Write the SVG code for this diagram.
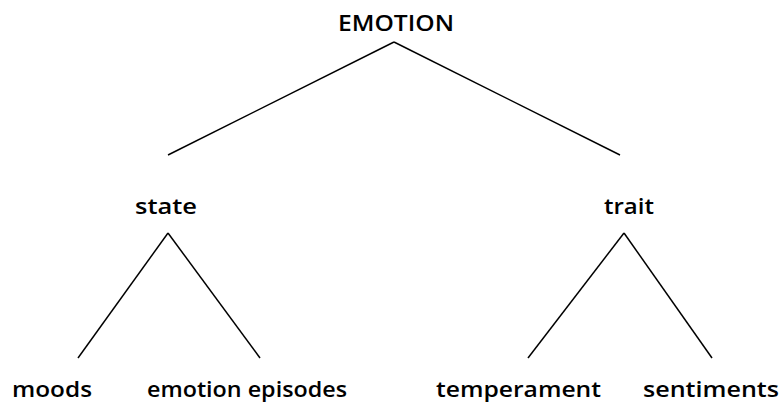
<svg xmlns="http://www.w3.org/2000/svg" width="782" height="402" viewBox="0 0 782 402">
<style>
text{font-family:"Open Sans","DejaVu Sans",sans-serif;font-size:22px;font-weight:600;fill:#000}
.e{stroke:#000;stroke-width:1.5;fill:none}
</style>
<rect width="782" height="402" fill="#fff"/>
<g id="connectors">
<line class="e" x1="394" y1="42" x2="168" y2="155"/>
<line class="e" x1="394" y1="42" x2="620" y2="155"/>
<line class="e" x1="168" y1="233" x2="78" y2="358"/>
<line class="e" x1="168" y1="233" x2="260" y2="358"/>
<line class="e" x1="624" y1="233" x2="528" y2="358"/>
<line class="e" x1="624" y1="233" x2="712" y2="358"/>
</g>
<g id="emotion"><text x="338" y="31" textLength="116" lengthAdjust="spacingAndGlyphs">EMOTION</text></g>
<g id="state"><text x="135" y="214" textLength="62" lengthAdjust="spacingAndGlyphs">state</text></g>
<g id="trait"><text x="604" y="214" textLength="50" lengthAdjust="spacingAndGlyphs">trait</text></g>
<g id="moods"><text x="12" y="397" textLength="80" lengthAdjust="spacingAndGlyphs">moods</text></g>
<g id="episodes"><text x="147" y="397" textLength="200" lengthAdjust="spacingAndGlyphs">emotion episodes</text></g>
<g id="temperament"><text x="436" y="397" textLength="165" lengthAdjust="spacingAndGlyphs">temperament</text></g>
<g id="sentiments"><text x="643" y="397" textLength="136" lengthAdjust="spacingAndGlyphs">sentiments</text></g>
</svg>
